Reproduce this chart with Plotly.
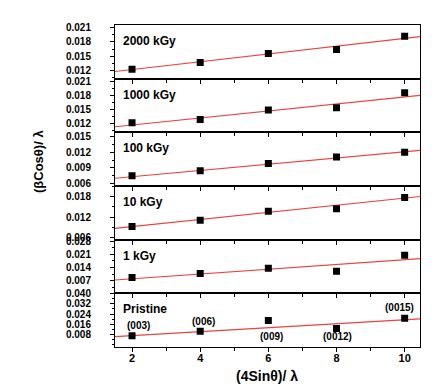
import numpy as np
import plotly.graph_objects as go
from plotly.subplots import make_subplots

# ---- data ----
x_vals = [2, 4, 6, 8, 10]
panel_labels = ["2000 kGy", "1000 kGy", "100 kGy", "10 kGy", "1 kGy", "Pristine"]

y_2000 = [0.0122, 0.01361, 0.01556, 0.0164, 0.0192]
y_1000 = [0.01215, 0.01286, 0.01494, 0.01543, 0.01864]
y_100 = [0.00749, 0.00845, 0.00987, 0.01113, 0.01203]
y_10 = [0.00922, 0.01106, 0.0137, 0.01449, 0.01779]
y_1 = [0.00869, 0.0108, 0.0136, 0.0120, 0.02047]
y_pristine = [0.00724, 0.01072, 0.01904, 0.01277, 0.02086]

# linear fit lines (slope, intercept)
fit_slope = [0.000826, 0.00076, 0.000605, 0.001057, 0.001264, 0.001546]
fit_intercept = [0.01049, 0.01015, 0.00609, 0.00705, 0.00552, 0.00417]

# y tick labels per panel
yticks = [
    [0.012, 0.015, 0.018, 0.021],
    [0.012, 0.015, 0.018, 0.021],
    [0.006, 0.009, 0.012, 0.015],
    [0.006, 0.012, 0.018],
    [0.007, 0.014, 0.021, 0.028],
    [0.008, 0.016, 0.024, 0.032, 0.040],
]
x_ticks = [2, 4, 6, 8, 10]

hkl_labels = ["(003)", "(006)", "(009)", "(0012)", "(0015)"]

# ---- layout / style (not data) ----
yranges = [
    [0.0102, 0.0216],
    [0.0101, 0.0217],
    [0.0055, 0.0159],
    [0.0053, 0.0212],
    [0.0003, 0.0288],
    [-0.0016, 0.0402],
]
yminor = [0.0015, 0.0015, 0.0015, 0.003, 0.0035, 0.004]
x_range = [1.5, 10.45]
hkl_shift = [(6, 10), (3, 10), (3, -16), (1, -8), (-5, 11)]

series = [y_2000, y_1000, y_100, y_10, y_1, y_pristine]

FONT = "Liberation Sans, Arial, sans-serif"
RED = "#e8433f"

fig = make_subplots(rows=6, cols=1, shared_xaxes=True, vertical_spacing=0)

for i, ys in enumerate(series):
    r = i + 1
    xf = np.array(x_range)
    yf = fit_intercept[i] + fit_slope[i] * xf
    fig.add_trace(go.Scatter(x=xf, y=yf, mode="lines",
                             line=dict(color=RED, width=1.1),
                             showlegend=False, hoverinfo="skip"), row=r, col=1)
    fig.add_trace(go.Scatter(x=x_vals, y=ys, mode="markers",
                             marker=dict(symbol="square", size=7, color="black"),
                             showlegend=False), row=r, col=1)

    fig.update_yaxes(row=r, col=1, range=yranges[i], tickvals=yticks[i],
                     tickformat=".3f", showline=True, mirror=True,
                     linecolor="black", linewidth=1, ticks="outside",
                     ticklen=4, tickcolor="black", showgrid=False,
                     zeroline=False, ticklabelstandoff=17,
                     tickfont=dict(family=FONT, size=10, color="black", weight="bold"),
                     minor=dict(ticks="outside", ticklen=2, dtick=yminor[i],
                                tick0=yticks[i][0], tickcolor="black"))
    fig.update_xaxes(row=r, col=1, range=x_range, tickvals=x_ticks,
                     showline=True, mirror=True, linecolor="black", linewidth=1,
                     ticks="outside", ticklen=4, tickcolor="black",
                     showgrid=False, zeroline=False,
                     showticklabels=(r == 6), ticklabelstandoff=-3,
                     tickfont=dict(family=FONT, size=11, color="black", weight="bold"),
                     minor=dict(ticks="outside", ticklen=3, dtick=1, tick0=1,
                                tickcolor="black"))

    yref = "y domain" if r == 1 else f"y{r} domain"
    fig.add_annotation(text=panel_labels[i], xref="paper", yref=yref,
                       x=0, y=1, xanchor="left", yanchor="middle",
                       xshift=6, yshift=-16, showarrow=False,
                       font=dict(family=FONT, size=12, color="black", weight="bold"))

# hkl labels on pristine panel
for j, lab in enumerate(hkl_labels):
    dx, dy = hkl_shift[j]
    fig.add_annotation(text=lab, x=x_vals[j], y=y_pristine[j], xref="x6", yref="y6",
                       showarrow=False, xshift=dx, yshift=dy,
                       font=dict(family=FONT, size=10, color="black", weight="bold"))

# axis titles
fig.add_annotation(text="(4Sinθ)/ λ", xref="paper", yref="paper",
                   x=0.5, y=0, xanchor="center", yanchor="middle",
                   xshift=-1, yshift=-29, showarrow=False,
                   font=dict(family=FONT, size=14, color="black", weight="bold"))
fig.add_annotation(text="(βCosθ)/ λ", xref="paper", yref="paper",
                   x=0, y=0.5, xanchor="center", yanchor="middle",
                   xshift=-77, yshift=24, textangle=-90, showarrow=False,
                   font=dict(family=FONT, size=13, color="black", weight="bold"))

fig.update_layout(width=442, height=391,
                  margin=dict(l=107, r=30, t=13, b=52),
                  paper_bgcolor="white", plot_bgcolor="white")

fig.write_html("out.html")
